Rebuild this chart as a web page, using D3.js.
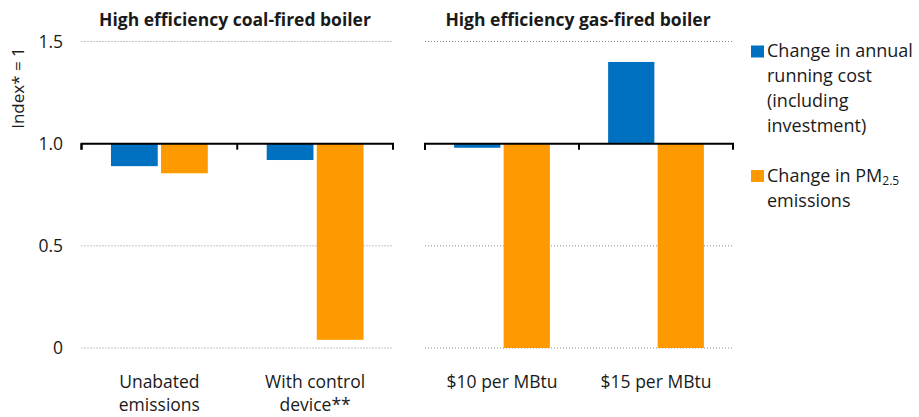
<!DOCTYPE html>
<html>
<head>
<meta charset="utf-8">
<script src="https://cdn.jsdelivr.net/npm/d3@7"></script>
<style>
  body { margin: 0; background: #fff; }
  text { font-family: "Open Sans", Lato, sans-serif; fill: #1a1a1a; }
</style>
</head>
<body>
<div class="chart"></div>
<script>
// data
var panelTitles = ["High efficiency coal-fired boiler", "High efficiency gas-fired boiler"];
var categories = [
  ["Unabated\nemissions", "With control\ndevice**"],
  ["$10 per MBtu", "$15 per MBtu"]
];
var costValues = [[0.89, 0.92], [0.98, 1.40]];
var pmValues = [[0.855, 0.04], [0, 0]];
var yTicks = [0, 0.5, 1.0, 1.5];
var yTickLabels = ["0", "0.5", "1.0", "1.5"];
var baseValue = 1;
var seriesNames = ["cost", "pm"];
var seriesColors = ["#0070C0", "#FF9900"];

var width = 919, height = 417;

var svg = d3.select(".chart").append("svg")
  .attr("width", width)
  .attr("height", height);

var y = d3.scaleLinear().domain([0, 1.5]).range([348, 41.5]);

var panelRanges = [[81.5, 393], [425, 733]];
var titleX = [235, 578];

// y tick labels
svg.append("g").selectAll("text")
  .data(yTicks)
  .join("text")
  .attr("x", 63)
  .attr("y", d => y(d) + 6)
  .attr("text-anchor", "end")
  .attr("font-size", 17.5)
  .text((d, i) => yTickLabels[i]);

// y axis title
svg.append("text")
  .attr("transform", "translate(24,88) rotate(-90)")
  .attr("text-anchor", "middle")
  .attr("font-size", 17)
  .text("Index* = 1");

panelTitles.forEach((title, p) => {
  var x = d3.scaleBand()
    .domain(categories[p])
    .range(panelRanges[p]);

  var xInner = d3.scaleBand()
    .domain(seriesNames)
    .range([0, x.bandwidth()])
    .paddingInner(0.066)
    .paddingOuter(0.588);

  var g = svg.append("g");

  // dotted gridlines
  g.selectAll(".grid")
    .data(yTicks.filter(t => t !== baseValue))
    .join("line")
    .attr("class", "grid")
    .attr("x1", panelRanges[p][0])
    .attr("x2", panelRanges[p][1])
    .attr("y1", d => y(d))
    .attr("y2", d => y(d))
    .attr("stroke", "#8c8c8c")
    .attr("stroke-width", 1)
    .attr("stroke-dasharray", "1,2");

  // bars
  var rows = categories[p].map((c, i) => [
    {cat: c, s: "cost", v: costValues[p][i], color: seriesColors[0]},
    {cat: c, s: "pm", v: pmValues[p][i], color: seriesColors[1]}
  ]).flat();

  g.selectAll(".bar")
    .data(rows)
    .join("rect")
    .attr("class", "bar")
    .attr("x", d => x(d.cat) + xInner(d.s))
    .attr("width", xInner.bandwidth())
    .attr("y", d => Math.min(y(d.v), y(baseValue)))
    .attr("height", d => Math.abs(y(d.v) - y(baseValue)))
    .attr("fill", d => d.color);

  // category axis drawn at the base value, ticks between categories
  var axis = d3.axisBottom(x).tickSize(6).tickSizeOuter(6).tickFormat("");
  var ax = g.append("g")
    .attr("transform", `translate(0,${y(baseValue)})`)
    .call(axis);
  ax.select(".domain").attr("stroke", "#000").attr("stroke-width", 2)
    .attr("d", `M${panelRanges[p][0]},6V0H${panelRanges[p][1]}V6`);
  ax.selectAll(".tick line").attr("stroke", "#000").attr("stroke-width", 2)
    .attr("transform", d => `translate(${-x.bandwidth() / 2},0)`);

  // category labels
  g.selectAll(".cat")
    .data(categories[p])
    .join("text")
    .attr("class", "cat")
    .attr("text-anchor", "middle")
    .attr("font-size", 17.5)
    .attr("x", d => x(d) + x.bandwidth() / 2)
    .attr("y", 388)
    .each(function(d) {
      var lines = d.split("\n");
      d3.select(this).selectAll("tspan")
        .data(lines)
        .join("tspan")
        .attr("x", x(d) + x.bandwidth() / 2)
        .attr("dy", (l, i) => i === 0 ? 0 : 23)
        .text(l => l);
    });

  // panel title
  g.append("text")
    .attr("x", titleX[p])
    .attr("y", 26)
    .attr("text-anchor", "middle")
    .attr("font-size", 17.5)
    .attr("font-weight", "bold")
    .text(title);
});

// legend
var legend = svg.append("g");
var legendItems = [
  {color: seriesColors[0], top: 45.5},
  {color: seriesColors[1], top: 170}
];
var costLines = ["Change in annual", "running cost", "(including", "investment)"];

legend.selectAll("rect")
  .data(legendItems)
  .join("rect")
  .attr("x", 751)
  .attr("y", d => d.top)
  .attr("width", 13)
  .attr("height", 12)
  .attr("fill", d => d.color);

var t1 = legend.append("text").attr("font-size", 18);
costLines.forEach((l, i) => {
  t1.append("tspan").attr("x", 767).attr("y", 57 + i * 25).text(l);
});

var t2 = legend.append("text").attr("font-size", 18).attr("x", 767).attr("y", 182);
t2.append("tspan").text("Change in PM");
t2.append("tspan").attr("font-size", 12).attr("dy", 3).text("2.5");
legend.append("text").attr("font-size", 18).attr("x", 767).attr("y", 207).text("emissions");
</script>
</body>
</html>
